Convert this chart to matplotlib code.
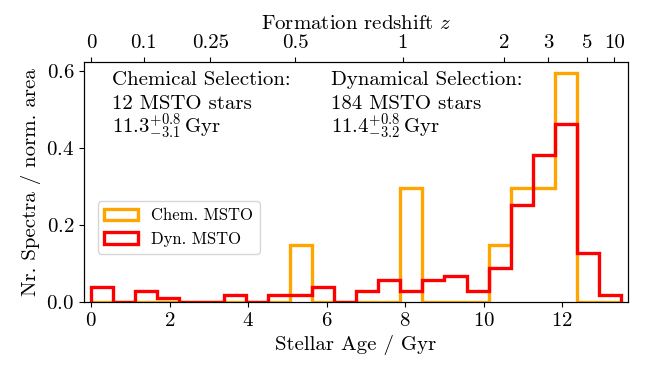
import numpy as np
import matplotlib
matplotlib.use("Agg")
import matplotlib.pyplot as plt

plt.rcParams['font.family'] = 'serif'
plt.rcParams['font.serif'] = ['cmr10', 'DejaVu Serif']
plt.rcParams['mathtext.fontset'] = 'cm'
plt.rcParams['axes.formatter.use_mathtext'] = True
plt.rcParams['font.size'] = 15

# age bins (Gyr)
bin_edges = np.linspace(0, 13.5, 25)
bin_centers = 0.5 * (bin_edges[1:] + bin_edges[:-1])

# normalised histogram heights
chem_heights = [0, 0, 0, 0, 0, 0, 0, 0, 0, 0.148, 0, 0, 0, 0, 0.296, 0, 0, 0,
                0.148, 0.296, 0.296, 0.593, 0, 0]
dyn_heights = [0.039, 0, 0.029, 0.010, 0, 0, 0.019, 0, 0.019, 0.019, 0.039, 0,
               0.029, 0.058, 0.029, 0.058, 0.068, 0.029, 0.087, 0.251, 0.380,
               0.462, 0.126, 0.019]

z_ticks = [0, 0.1, 0.25, 0.5, 1, 2, 3, 5, 10]
z_labels = ['0', '0.1', '0.25', '0.5', '1', '2', '3', '5', '10']

#lookback time for flat LCDM (H0=67.7, Om=0.31) -> position of redshift ticks
def lookback_time(z, H0=67.7, Om=0.31):
        zz = np.linspace(0, z, 2001)
        integrand = 1.0 / ((1 + zz) * np.sqrt(Om * (1 + zz) ** 3 + 1 - Om))
        return 977.8 / H0 * np.trapezoid(integrand, zz)

fig = plt.figure(figsize=(6.51, 3.66), dpi=100)
ax = fig.add_axes([0.129, 0.175, 0.836, 0.656])

ax.hist(bin_centers, bins=bin_edges, weights=chem_heights, histtype='step',
        color='orange', lw=2.4, label='Chem. MSTO')
ax.hist(bin_centers, bins=bin_edges, weights=dyn_heights, histtype='step',
        color='red', lw=2.4, label='Dyn. MSTO')

ax.set_xlim(-0.18, 13.68)
ax.set_yticks([0.0, 0.2, 0.4, 0.6])
ax.set_xticks([0, 2, 4, 6, 8, 10, 12])
ax.set_xlabel('Stellar Age / Gyr')
ax.set_ylabel('Nr. Spectra / norm. area')

#selection info text
for x0, lines in [(0.051, ['Chemical Selection:', '12 MSTO stars', r'$11.3^{+0.8}_{-3.1}\,$Gyr']),
                  (0.454, ['Dynamical Selection:', '184 MSTO stars', r'$11.4^{+0.8}_{-3.2}\,$Gyr'])]:
        for y0, s in zip([0.925, 0.825, 0.729], lines):
                ax.text(x0, y0, s, transform=ax.transAxes, va='center', ha='left')

ax.legend(loc='center left', bbox_to_anchor=(0.01, 0.31), fontsize=12)

#top axis: formation redshift
ax2 = ax.twiny()
ax2.set_xlim(ax.get_xlim())
ax2.set_xticks([lookback_time(z) for z in z_ticks], labels=z_labels)
ax2.set_xlabel('Formation redshift $z$')

fig.savefig('out.png', dpi=100)
